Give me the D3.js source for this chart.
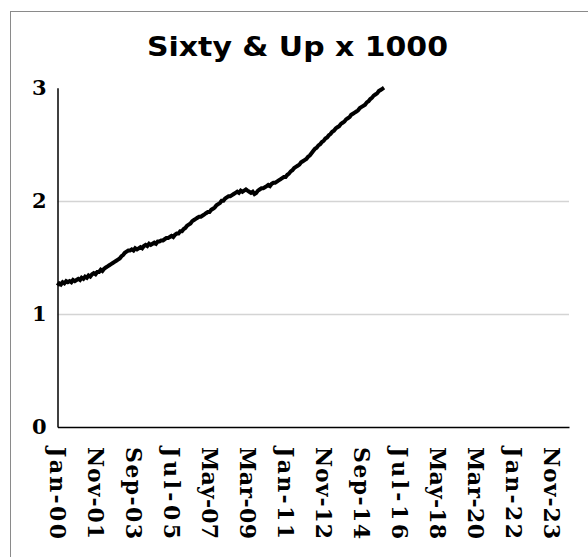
<!DOCTYPE html>
<html>
<head>
<meta charset="utf-8">
<script src="https://cdn.jsdelivr.net/npm/d3@7"></script>
<style>
  body { margin: 0; background: #fff; }
  svg { display: block; }
</style>
</head>
<body>
<div id="chart"></div>
<script>
var svgWidth = 588;
var svgHeight = 557;

// Chart title
var chartTitle = "Sixty & Up x 1000";

// Monthly values, starting Jan-2000 (one row per year)
var firstMonth = "Jan-00";
var values = [
  1.25, 1.27, 1.26, 1.28, 1.27, 1.29, 1.28, 1.29, 1.28, 1.30, 1.29, 1.30, // 2000
  1.31, 1.30, 1.32, 1.31, 1.33, 1.32, 1.34, 1.33, 1.35, 1.36, 1.35, 1.37, // 2001
  1.37, 1.39, 1.38, 1.40, 1.41, 1.42, 1.43, 1.44, 1.45, 1.46, 1.47, 1.48, // 2002
  1.49, 1.51, 1.52, 1.54, 1.55, 1.56, 1.56, 1.57, 1.56, 1.58, 1.57, 1.58, // 2003
  1.59, 1.58, 1.60, 1.61, 1.60, 1.62, 1.61, 1.62, 1.63, 1.62, 1.64, 1.64, // 2004
  1.65, 1.65, 1.66, 1.67, 1.67, 1.68, 1.69, 1.68, 1.70, 1.71, 1.71, 1.73, // 2005
  1.73, 1.75, 1.76, 1.78, 1.79, 1.80, 1.82, 1.83, 1.84, 1.85, 1.86, 1.86, // 2006
  1.87, 1.88, 1.89, 1.90, 1.90, 1.92, 1.93, 1.94, 1.96, 1.97, 1.98, 2.00, // 2007
  2.00, 2.02, 2.03, 2.04, 2.04, 2.05, 2.06, 2.07, 2.08, 2.07, 2.09, 2.08, // 2008
  2.09, 2.10, 2.09, 2.08, 2.07, 2.08, 2.06, 2.07, 2.09, 2.10, 2.11, 2.11, // 2009
  2.12, 2.13, 2.14, 2.13, 2.15, 2.16, 2.16, 2.17, 2.18, 2.19, 2.20, 2.21, // 2010
  2.21, 2.23, 2.24, 2.26, 2.27, 2.29, 2.30, 2.31, 2.32, 2.34, 2.35, 2.36, // 2011
  2.37, 2.39, 2.40, 2.42, 2.44, 2.46, 2.47, 2.49, 2.50, 2.52, 2.53, 2.55, // 2012
  2.56, 2.58, 2.59, 2.61, 2.62, 2.64, 2.65, 2.66, 2.68, 2.69, 2.70, 2.72, // 2013
  2.73, 2.74, 2.76, 2.77, 2.78, 2.79, 2.80, 2.82, 2.83, 2.84, 2.85, 2.87, // 2014
  2.88, 2.90, 2.91, 2.93, 2.94, 2.95, 2.97, 2.98, 2.99, 3.00              // 2015
];

// x axis: labels every 22 months, axis runs to Sep-24
var xTickLabels = ["Jan-00", "Nov-01", "Sep-03", "Jul-05", "May-07", "Mar-09", "Jan-11",
  "Nov-12", "Sep-14", "Jul-16", "May-18", "Mar-20", "Jan-22", "Nov-23"];
var xDomainEnd = "Sep-24";

// y axis
var yTicks = [0, 1, 2, 3];
var yGrid = [1, 2];

var margin = { top: 88, right: 19, bottom: 130, left: 57.5 };
var plotRight = svgWidth - margin.right;
var plotBottom = svgHeight - margin.bottom;

var parseMonth = d3.timeParse("%b-%y");
var start = parseMonth(firstMonth);

var data = values.map(function(v, i) {
  return { date: d3.timeMonth.offset(start, i), value: v };
});

var svg = d3.select("#chart")
  .append("svg")
  .attr("width", svgWidth)
  .attr("height", svgHeight);

// outer frame (only top and left edges fall inside the picture)
svg.append("rect")
  .attr("x", 10.5)
  .attr("y", 11.5)
  .attr("width", 700)
  .attr("height", 700)
  .attr("fill", "none")
  .attr("stroke", "#8a8a8a")
  .attr("stroke-width", 1);

// title
svg.append("text")
  .attr("x", 147)
  .attr("y", 56)
  .attr("textLength", 301)
  .attr("lengthAdjust", "spacingAndGlyphs")
  .style("font-family", "'DejaVu Sans', sans-serif")
  .style("font-weight", "bold")
  .style("font-size", "26px")
  .attr("fill", "#000")
  .text(chartTitle);

var xScale = d3.scaleTime()
  .domain([start, parseMonth(xDomainEnd)])
  .range([margin.left, plotRight]);

var yScale = d3.scaleLinear()
  .domain([0, 3])
  .range([plotBottom, 87.7]);

// gridlines
svg.append("g")
  .selectAll("line")
  .data(yGrid)
  .enter()
  .append("line")
  .attr("x1", margin.left)
  .attr("x2", plotRight)
  .attr("y1", d => Math.round(yScale(d)) + 0.5)
  .attr("y2", d => Math.round(yScale(d)) + 0.5)
  .attr("stroke", "#d4d4d4")
  .attr("stroke-width", 1.5);

// y axis
var leftAxis = d3.axisLeft(yScale)
  .tickValues(yTicks)
  .tickSize(0)
  .tickPadding(11)
  .tickFormat(d3.format("d"));

var yAxis = svg.append("g")
  .attr("transform", `translate(${margin.left}, 0)`)
  .call(leftAxis);

yAxis.select(".domain")
  .attr("stroke", "#000")
  .attr("stroke-width", 1.5);

yAxis.selectAll("text")
  .style("font-family", "'DejaVu Serif', serif")
  .style("font-weight", "bold")
  .style("font-size", "21px")
  .attr("fill", "#000");

// x axis
var bottomAxis = d3.axisBottom(xScale)
  .tickValues(xTickLabels.map(parseMonth))
  .tickSize(0)
  .tickFormat(d3.timeFormat("%b-%y"));

var xAxis = svg.append("g")
  .attr("transform", `translate(0, ${yScale(0)})`)
  .call(bottomAxis);

xAxis.select(".domain")
  .attr("stroke", "#000")
  .attr("stroke-width", 1.5);

xAxis.selectAll("text")
  .attr("transform", "rotate(90)")
  .attr("x", 20)
  .attr("y", 0)
  .attr("dy", "0.36em")
  .attr("textLength", 92)
  .attr("lengthAdjust", "spacing")
  .style("text-anchor", "start")
  .style("font-family", "'DejaVu Serif', serif")
  .style("font-weight", "bold")
  .style("font-size", "22px")
  .attr("fill", "#000");

// the series line
var line = d3.line()
  .x(d => xScale(d.date))
  .y(d => yScale(d.value));

svg.append("path")
  .datum(data)
  .attr("d", line)
  .attr("fill", "none")
  .attr("stroke", "#000")
  .attr("stroke-width", 4)
  .attr("stroke-linejoin", "miter");
</script>
</body>
</html>
